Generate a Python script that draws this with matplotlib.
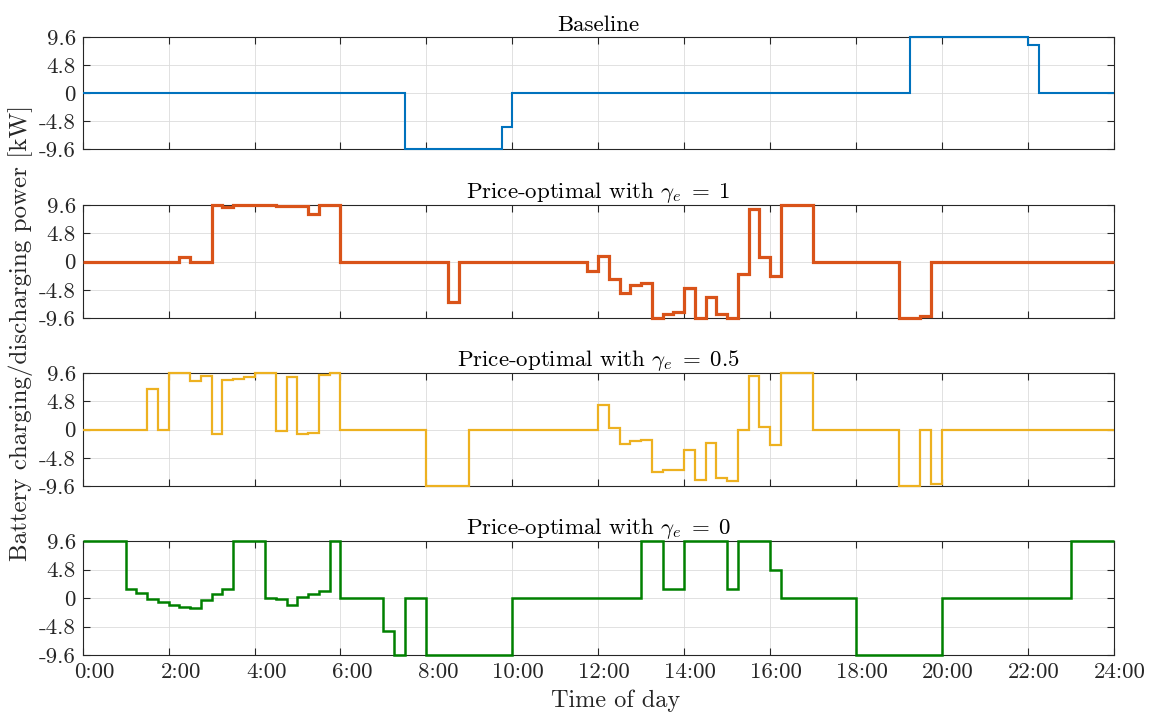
import numpy as np
import matplotlib
matplotlib.use("Agg")
import matplotlib.pyplot as plt
from matplotlib.transforms import ScaledTranslation, blended_transform_factory

plt.rcParams['font.family'] = ['cmr10', 'DejaVu Serif']
plt.rcParams['mathtext.fontset'] = 'cm'
plt.rcParams['axes.unicode_minus'] = False
plt.rcParams['axes.formatter.use_mathtext'] = True

# 15-minute slots, one row per hour
baseline = [
    0, 0, 0, 0,  0, 0, 0, 0,  0, 0, 0, 0,  0, 0, 0, 0,  0, 0, 0, 0,  0, 0, 0, 0,
    0, 0, 0, 0,  0, 0, -9.6, -9.6,  -9.6, -9.6, -9.6, -9.6,  -9.6, -9.6, -9.6, -5.8,
    0, 0, 0, 0,  0, 0, 0, 0,  0, 0, 0, 0,  0, 0, 0, 0,  0, 0, 0, 0,  0, 0, 0, 0,
    0, 0, 0, 0,  0, 0, 0, 0,  0, 0, 0, 0,  0, 9.6, 9.6, 9.6,  9.6, 9.6, 9.6, 9.6,
    9.6, 9.6, 9.6, 9.6,  8.2, 0, 0, 0,  0, 0, 0, 0,
]
gamma_1 = [
    0, 0, 0, 0,  0, 0, 0, 0,  0, 0.8, 0, 0,  9.6, 9.2, 9.6, 9.6,  9.6, 9.6, 9.5, 9.4,
    9.4, 8.0, 9.6, 9.6,  0, 0, 0, 0,  0, 0, 0, 0,  0, 0, -6.9, 0,  0, 0, 0, 0,
    0, 0, 0, 0,  0, 0, 0, -1.6,  1.0, -3.0, -5.4, -4.0,  -3.6, -9.6, -8.9, -8.6,
    -4.5, -9.6, -6.1, -9.0,  -9.6, -2.1, 9.0, 0.7,  -2.5, 9.6, 9.6, 9.6,  0, 0, 0, 0,
    0, 0, 0, 0,  -9.6, -9.6, -9.2, 0,  0, 0, 0, 0,  0, 0, 0, 0,  0, 0, 0, 0,
    0, 0, 0, 0,
]
gamma_05 = [
    0, 0, 0, 0,  0, 0, 6.9, 0,  9.6, 9.6, 8.2, 9.1,  -0.8, 8.4, 8.6, 8.9,
    9.6, 9.6, -0.2, 9.0,  -0.7, -0.6, 9.3, 9.6,  0, 0, 0, 0,  0, 0, 0, 0,
    -9.6, -9.6, -9.6, -9.6,  0, 0, 0, 0,  0, 0, 0, 0,  0, 0, 0, 0,
    4.1, 0.3, -2.4, -1.9,  -1.8, -7.2, -6.8, -6.8,  -3.5, -8.5, -2.3, -8.2,
    -8.8, 0, 9.1, 0.4,  -2.7, 9.6, 9.6, 9.6,  0, 0, 0, 0,  0, 0, 0, 0,
    -9.6, -9.6, 0, -9.2,  0, 0, 0, 0,  0, 0, 0, 0,  0, 0, 0, 0,  0, 0, 0, 0,
]
gamma_0 = [
    9.6, 9.6, 9.6, 9.6,  1.5, 0.8, -0.1, -0.7,  -1.25, -1.5, -1.65, -0.4,
    0.7, 1.5, 9.6, 9.6,  9.6, 0, -0.1, -1.1,  0.2, 0.75, 1.25, 9.6,
    0, 0, 0, 0,  -5.6, -9.6, 0, 0,  -9.6, -9.6, -9.6, -9.6,  -9.6, -9.6, -9.6, -9.6,
    0, 0, 0, 0,  0, 0, 0, 0,  0, 0, 0, 0,  9.6, 9.6, 1.5, 1.6,
    9.6, 9.6, 9.6, 9.6,  1.5, 9.6, 9.6, 9.6,  4.7, 0, 0, 0,  0, 0, 0, 0,
    -9.6, -9.6, -9.6, -9.6,  -9.6, -9.6, -9.6, -9.6,  0, 0, 0, 0,  0, 0, 0, 0,
    0, 0, 0, 0,  9.6, 9.6, 9.6, 9.6,
]

series = [baseline, gamma_1, gamma_05, gamma_0]
titles = ["Baseline",
          r"Price-optimal with $\gamma_e\;=\;1$",
          r"Price-optimal with $\gamma_e\;=\;0.5$",
          r"Price-optimal with $\gamma_e\;=\;0$"]
colors = ["#0072BD", "#D95319", "#EDB120", "#008000"]
widths = [1.5, 2.3, 1.6, 1.8]

yticks = [-9.6, -4.8, 0, 4.8, 9.6]
ytick_labels = ["-9.6", "-4.8", "0", "4.8", "9.6"]
xticks = list(range(0, 25, 2))
xtick_labels = [f"{h}:00" for h in xticks]

edges = np.arange(len(baseline) + 1) * 0.25

fig = plt.figure(figsize=(11.54, 7.15), dpi=100)
W, H = 1154, 715
left = 82.7 / W
width = (1113.7 - 82.7) / W
boxes = [(37, 149), (205, 318), (373, 486), (541, 655)]

ink = "#262626"
for i, (vals, title, col, lw) in enumerate(zip(series, titles, colors, widths)):
    top, bot = boxes[i]
    ax = fig.add_axes([left, 1 - bot / H, width, (bot - top) / H])
    ax.stairs(vals, edges, baseline=None, color=col, linewidth=lw, clip_on=False, zorder=3)
    ax.set_xlim(0, 24)
    ax.set_ylim(-9.6, 9.6)
    ax.set_yticks(yticks)
    ax.set_yticklabels(ytick_labels)
    ax.set_xticks(xticks)
    ax.set_xticklabels([])
    ax.tick_params(direction='in', length=5, width=0.8, top=True, right=True,
                   colors=ink, labelsize=16.5, labelcolor=ink, pad=5)
    ax.grid(True, color="#dcdcdc", linewidth=0.6)
    ax.set_axisbelow(True)
    for s in ax.spines.values():
        s.set_color(ink)
        s.set_linewidth(0.8)
    ax.set_title(title, fontsize=16.5, color="black", pad=4)
    if i == 3:
        base = blended_transform_factory(ax.transData, ax.transAxes)
        for h, lab in zip(xticks, xtick_labels):
            dx = 12 if len(lab) == 4 else 6
            tr = base + ScaledTranslation(dx / 100, -7 / 100, fig.dpi_scale_trans)
            ax.text(h, 0, lab, transform=tr, ha='center', va='top',
                    fontsize=16.5, color=ink)

fig.text(0.0175, 1 - 333 / H, "Battery charging/discharging power [kW]",
         rotation=90, ha='center', va='center', fontsize=18, color=ink)
fig.text(616 / W, 1 - 701 / H, "Time of day",
         ha='center', va='center', fontsize=17.5, color=ink)

fig.savefig("out.png", dpi=100)
